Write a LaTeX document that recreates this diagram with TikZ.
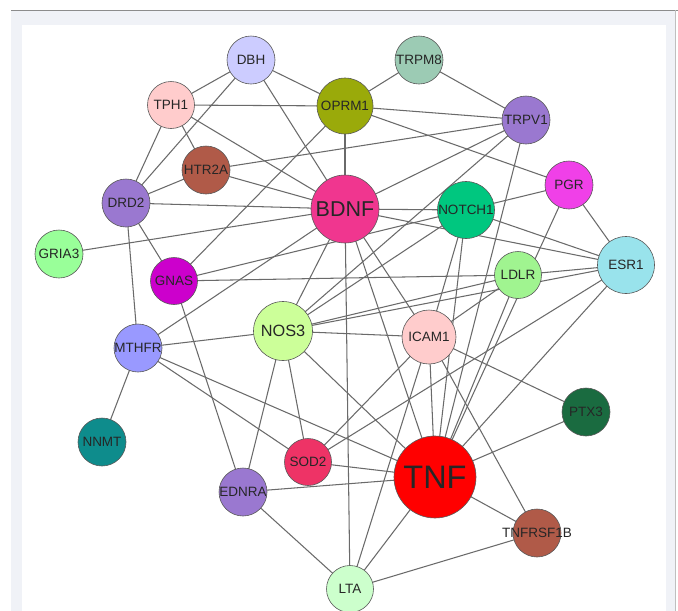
\documentclass[tikz,border=0pt]{standalone}
\usepackage{fontspec}
\setmainfont{Liberation Sans}
\usetikzlibrary{backgrounds}
\pgfdeclarelayer{edgelayer}
\pgfsetlayers{background,edgelayer,main}
\definecolor{cDBH}{HTML}{CCCCFF}
\definecolor{cTRPM}{HTML}{9CCBB4}
\definecolor{cTPH}{HTML}{FFCCCC}
\definecolor{cOPRM}{HTML}{9AAA0A}
\definecolor{cPurple}{HTML}{9A78D0}
\definecolor{cBrown}{HTML}{B05A48}
\definecolor{cBDNF}{HTML}{F0368F}
\definecolor{cNOTCH}{HTML}{00C77F}
\definecolor{cPGR}{HTML}{F040E8}
\definecolor{cGRIA}{HTML}{99FF99}
\definecolor{cGNAS}{HTML}{CC00CC}
\definecolor{cLDLR}{HTML}{A0F490}
\definecolor{cESR}{HTML}{99E3EC}
\definecolor{cNOS}{HTML}{CCFF99}
\definecolor{cMTHFR}{HTML}{9999FF}
\definecolor{cPTX}{HTML}{1A6B40}
\definecolor{cNNMT}{HTML}{0E8C8C}
\definecolor{cSOD}{HTML}{EE3366}
\definecolor{cTNF}{HTML}{FF0000}
\definecolor{cLTA}{HTML}{CCFFCC}
\definecolor{frame}{HTML}{F0F2F7}
\definecolor{edgegray}{HTML}{6A6A6A}
\newcommand{\glbl}[1]{\makebox[0pt][c]{#1}}
\begin{document}
\begin{tikzpicture}[x=1pt,y=-1pt,
  gene/.style={circle,draw=black!65,line width=0.6pt,inner sep=0pt,text=black!85,
    font=\fontsize{13.5}{15}\selectfont},
  link/.style={draw=edgegray,line width=1.05pt}]
\useasboundingbox (0,0) rectangle (678,611);
\begin{pgfonlayer}{background}
  \fill[white] (0,0) rectangle (678,611);
  \fill[frame] (11,10) rectangle (675,611);
  \fill[white] (22,25) rectangle (666,611);
  \draw[black!45,line width=0.8pt] (11,10) -- (678,10);
  \draw[black!25,line width=0.6pt] (675,10) -- (675,611);
\end{pgfonlayer}
% nodes
\node[gene,fill=cDBH,minimum size=48pt] (DBH) at (251,60) {\glbl{DBH}};
\node[gene,fill=cTRPM,minimum size=48pt] (TRPM8) at (419,60) {\glbl{TRPM8}};
\node[gene,fill=cTPH,minimum size=47pt] (TPH1) at (171,105) {\glbl{TPH1}};
\node[gene,fill=cOPRM,minimum size=56pt] (OPRM1) at (345,106) {\glbl{OPRM1}};
\node[gene,fill=cPurple,minimum size=48pt] (TRPV1) at (526,120) {\glbl{TRPV1}};
\node[gene,fill=cBrown,minimum size=48pt] (HTR2A) at (206,170) {\glbl{HTR2A}};
\node[gene,fill=cPurple,minimum size=48pt] (DRD2) at (126,203) {\glbl{DRD2}};
\node[gene,fill=cBDNF,minimum size=68pt,font=\fontsize{21.5}{24}\selectfont] (BDNF) at (345,209) {\glbl{BDNF}};
\node[gene,fill=cNOTCH,minimum size=57pt] (NOTCH1) at (466,210) {\glbl{NOTCH1}};
\node[gene,fill=cPGR,minimum size=48pt] (PGR) at (569,185) {\glbl{PGR}};
\node[gene,fill=cGRIA,minimum size=48pt] (GRIA3) at (59,254) {\glbl{GRIA3}};
\node[gene,fill=cGNAS,minimum size=47pt] (GNAS) at (174,281) {\glbl{GNAS}};
\node[gene,fill=cLDLR,minimum size=47pt] (LDLR) at (518,275) {\glbl{LDLR}};
\node[gene,fill=cESR,minimum size=57pt] (ESR1) at (626,265) {\glbl{ESR1}};
\node[gene,fill=cNOS,minimum size=59pt,font=\fontsize{16.3}{18}\selectfont] (NOS3) at (283,331) {\glbl{NOS3}};
\node[gene,fill=cTPH,minimum size=54pt] (ICAM1) at (429,337) {\glbl{ICAM1}};
\node[gene,fill=cMTHFR,minimum size=48pt] (MTHFR) at (138,348) {\glbl{MTHFR}};
\node[gene,fill=cPTX,minimum size=48pt] (PTX3) at (586,412) {\glbl{PTX3}};
\node[gene,fill=cNNMT,minimum size=48pt] (NNMT) at (102,442) {\glbl{NNMT}};
\node[gene,fill=cSOD,minimum size=47pt] (SOD2) at (308,462) {\glbl{SOD2}};
\node[gene,fill=cTNF,minimum size=82pt,font=\fontsize{32.5}{36}\selectfont] (TNF) at (435,477) {\glbl{TNF}};
\node[gene,fill=cPurple,minimum size=48pt] (EDNRA) at (243,492) {\glbl{EDNRA}};
\node[gene,fill=cBrown,minimum size=48pt] (TNFRSF1B) at (537,533) {\glbl{TNFRSF1B}};
\node[gene,fill=cLTA,minimum size=47pt] (LTA) at (350,589) {\glbl{LTA}};
% edges
\begin{pgfonlayer}{edgelayer}
\foreach \a/\b in {DBH/TPH1,DBH/OPRM1,DBH/DRD2,DBH/BDNF,
  TPH1/OPRM1,TPH1/HTR2A,TPH1/DRD2,TPH1/BDNF,
  HTR2A/DRD2,HTR2A/BDNF,HTR2A/TRPV1,
  DRD2/BDNF,DRD2/GNAS,DRD2/MTHFR,
  OPRM1/TRPM8,OPRM1/TRPV1,OPRM1/PGR,OPRM1/BDNF,OPRM1/GNAS,
  TRPM8/TRPV1,
  TRPV1/BDNF,TRPV1/NOS3,TRPV1/TNF,
  PGR/NOTCH1,PGR/ESR1,PGR/TNF,
  BDNF/NOTCH1,BDNF/ESR1,BDNF/GRIA3,BDNF/MTHFR,BDNF/NOS3,BDNF/ICAM1,BDNF/TNF,BDNF/LTA,
  NOTCH1/ESR1,NOTCH1/GNAS,NOTCH1/NOS3,NOTCH1/ICAM1,NOTCH1/TNF,
  GNAS/LDLR,GNAS/EDNRA,
  MTHFR/NOS3,MTHFR/SOD2,MTHFR/TNF,MTHFR/NNMT,
  NOS3/ESR1,NOS3/LDLR,NOS3/ICAM1,NOS3/SOD2,NOS3/EDNRA,NOS3/TNF,
  LDLR/ESR1,LDLR/ICAM1,LDLR/TNF,
  ESR1/SOD2,ESR1/TNF,
  SOD2/TNF,SOD2/ICAM1,
  EDNRA/TNF,EDNRA/LTA,
  LTA/TNF,LTA/TNFRSF1B,LTA/ICAM1,
  TNF/TNFRSF1B,TNF/PTX3,TNF/ICAM1,
  ICAM1/TNFRSF1B,ICAM1/PTX3}
  \draw[link] (\a.center) -- (\b.center);
\end{pgfonlayer}
\end{tikzpicture}
\end{document}
